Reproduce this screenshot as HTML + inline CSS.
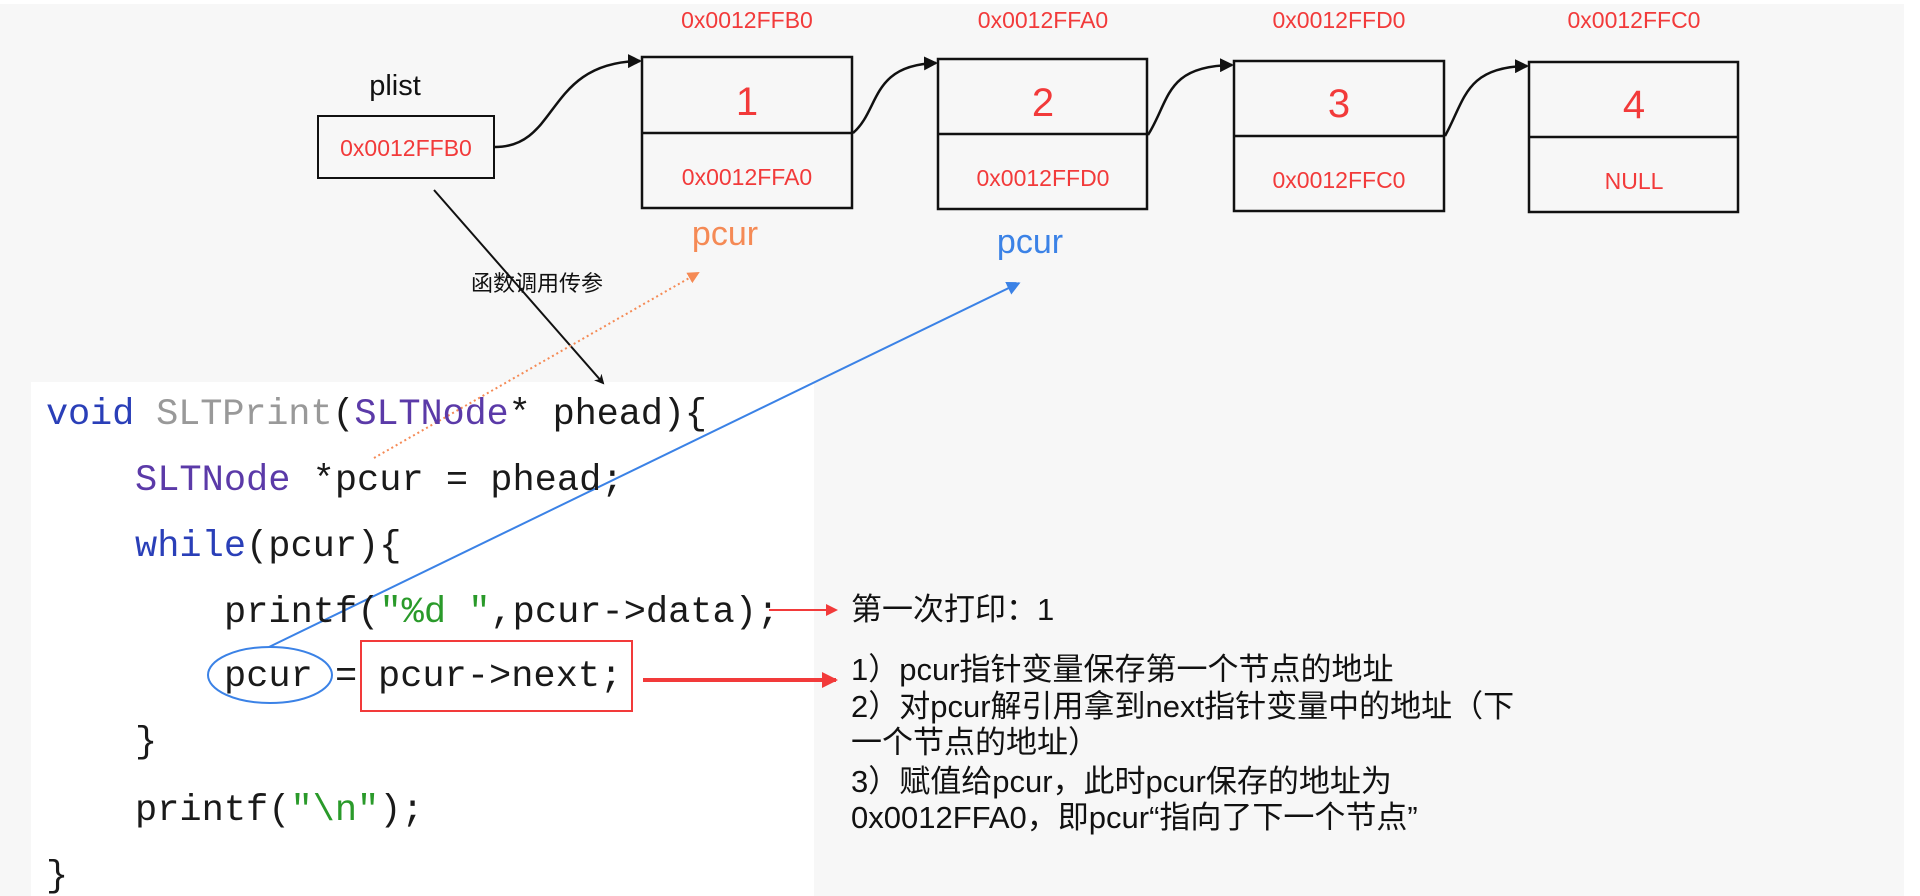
<!DOCTYPE html>
<html><head><meta charset="utf-8"><style>
html,body{margin:0;padding:0;background:#f7f7f7;}
svg{display:block}
.r{fill:#f23a3a;font-family:"Liberation Sans","Noto Sans CJK SC",sans-serif}
.code{font-family:"Liberation Mono",monospace;font-size:37px;fill:#1a1a1a}
.cn{font-family:"Liberation Sans","Noto Sans CJK SC",sans-serif;font-size:31px;fill:#111}
</style></head><body>
<svg width="1920" height="896" viewBox="0 0 1920 896" xmlns="http://www.w3.org/2000/svg">
<defs>
<marker id="ab" markerWidth="10" markerHeight="10" refX="8" refY="5" orient="auto" markerUnits="userSpaceOnUse"><path d="M0,0 L10,5 L0,10 L3,5z" fill="#111"/></marker>
<marker id="ab2" markerWidth="14" markerHeight="14" refX="12" refY="7" orient="auto" markerUnits="userSpaceOnUse"><path d="M0,0 L14,7 L0,14z" fill="#111"/></marker>
<marker id="ao" markerWidth="12" markerHeight="12" refX="10" refY="6" orient="auto" markerUnits="userSpaceOnUse"><path d="M0,0 L12,6 L0,12z" fill="#f58a55"/></marker>
<marker id="abl" markerWidth="14" markerHeight="14" refX="12" refY="7" orient="auto" markerUnits="userSpaceOnUse"><path d="M0,0 L14,7 L0,14z" fill="#3b82e6"/></marker>
<marker id="ar" markerWidth="12" markerHeight="12" refX="10" refY="6" orient="auto" markerUnits="userSpaceOnUse"><path d="M0,0 L12,6 L0,12z" fill="#f23a3a"/></marker>
<marker id="ar2" markerWidth="16" markerHeight="16" refX="14" refY="8" orient="auto" markerUnits="userSpaceOnUse"><path d="M0,0 L16,8 L0,16z" fill="#f23a3a"/></marker>
</defs>
<rect x="0" y="0" width="1920" height="896" fill="#f7f7f7"/>
<rect x="1904" y="0" width="16" height="896" fill="#fff"/>
<rect x="0" y="0" width="1920" height="4" fill="#fff"/>
<rect x="31" y="382" width="783" height="514" fill="#fff"/>

<text x="395" y="95" font-family="Liberation Sans,sans-serif" font-size="29" fill="#111" text-anchor="middle">plist</text>
<rect x="318" y="116" width="176" height="62" fill="none" stroke="#111" stroke-width="2"/>
<text class="r" x="406" y="156" font-size="23" text-anchor="middle">0x0012FFB0</text>

<g fill="none" stroke="#111" stroke-width="2.5">
<rect x="642" y="57" width="210" height="151"/><line x1="642" y1="133" x2="852" y2="133"/>
<rect x="938" y="59" width="209" height="150"/><line x1="938" y1="134" x2="1147" y2="134"/>
<rect x="1234" y="61" width="210" height="150"/><line x1="1234" y1="136" x2="1444" y2="136"/>
<rect x="1529" y="62" width="209" height="150"/><line x1="1529" y1="137" x2="1738" y2="137"/>
</g>
<g class="r" text-anchor="middle">
<text x="747" y="28" font-size="23">0x0012FFB0</text>
<text x="1043" y="28" font-size="23">0x0012FFA0</text>
<text x="1339" y="28" font-size="23">0x0012FFD0</text>
<text x="1634" y="28" font-size="23">0x0012FFC0</text>
<text x="747" y="115" font-size="40">1</text>
<text x="1043" y="116" font-size="40">2</text>
<text x="1339" y="117" font-size="40">3</text>
<text x="1634" y="118" font-size="40">4</text>
<text x="747" y="185" font-size="23">0x0012FFA0</text>
<text x="1043" y="186" font-size="23">0x0012FFD0</text>
<text x="1339" y="188" font-size="23">0x0012FFC0</text>
<text x="1634" y="189" font-size="23">NULL</text>
</g>
<g fill="none" stroke="#111" stroke-width="2.5" marker-end="url(#ab2)">
<path d="M495,147 C560,147 545,62 640,61"/>
<path d="M853,133 C880,110 870,65 936,63"/>
<path d="M1148,135 C1170,100 1165,66 1232,65"/>
<path d="M1445,136 C1465,100 1465,67 1527,66"/>
</g>

<text x="725" y="245" font-family="Liberation Sans,sans-serif" font-size="34" fill="#f58a55" text-anchor="middle">pcur</text>
<text x="1030" y="253" font-family="Liberation Sans,sans-serif" font-size="34" fill="#3b82e6" text-anchor="middle">pcur</text>

<line x1="434" y1="190" x2="603" y2="383" stroke="#111" stroke-width="2" marker-end="url(#ab)"/>
<text x="537" y="291" font-family="Liberation Sans,'Noto Sans CJK SC',sans-serif" font-size="22" fill="#111" text-anchor="middle">函数调用传参</text>

<line x1="374" y1="458" x2="698" y2="273" stroke="#f58a55" stroke-width="2" stroke-dasharray="2,3" marker-end="url(#ao)"/>
<line x1="269" y1="647" x2="1019" y2="283" stroke="#3b82e6" stroke-width="2" marker-end="url(#abl)"/>

<g class="code">
<text x="46" y="424" textLength="661"><tspan fill="#2a3fb8">void</tspan> <tspan fill="#999">SLTPrint</tspan>(<tspan fill="#5b3aa8">SLTNode</tspan>* phead){</text>
<text x="135" y="490"><tspan fill="#5b3aa8">SLTNode</tspan> *pcur = phead;</text>
<text x="135" y="556"><tspan fill="#2a3fb8">while</tspan>(pcur){</text>
<text x="224" y="622">printf(<tspan fill="#2a9a2a">"%d "</tspan>,pcur-&gt;data);</text>
<text x="224" y="686">pcur =</text>
<text x="378" y="686">pcur-&gt;next;</text>
<text x="135" y="752">}</text>
<text x="135" y="820">printf(<tspan fill="#2a9a2a">"\n"</tspan>);</text>
<text x="46" y="886">}</text>
</g>
<ellipse cx="270" cy="675" rx="62" ry="28" fill="none" stroke="#3b82e6" stroke-width="2"/>
<rect x="361" y="641" width="271" height="70" fill="none" stroke="#f23a3a" stroke-width="2"/>

<line x1="769" y1="610" x2="836" y2="610" stroke="#f23a3a" stroke-width="2" marker-end="url(#ar)"/>
<line x1="643" y1="680" x2="836" y2="680" stroke="#f23a3a" stroke-width="4" marker-end="url(#ar2)"/>

<g class="cn">
<text x="851" y="620">第一次打印：1</text>
<text x="851" y="680">1）pcur指针变量保存第一个节点的地址</text>
<text x="851" y="717">2）对pcur解引用拿到next指针变量中的地址（下</text>
<text x="851" y="753">一个节点的地址）</text>
<text x="851" y="792">3）赋值给pcur，此时pcur保存的地址为</text>
<text x="851" y="828">0x0012FFA0，即pcur“指向了下一个节点”</text>
</g>
</svg>
</body></html>
